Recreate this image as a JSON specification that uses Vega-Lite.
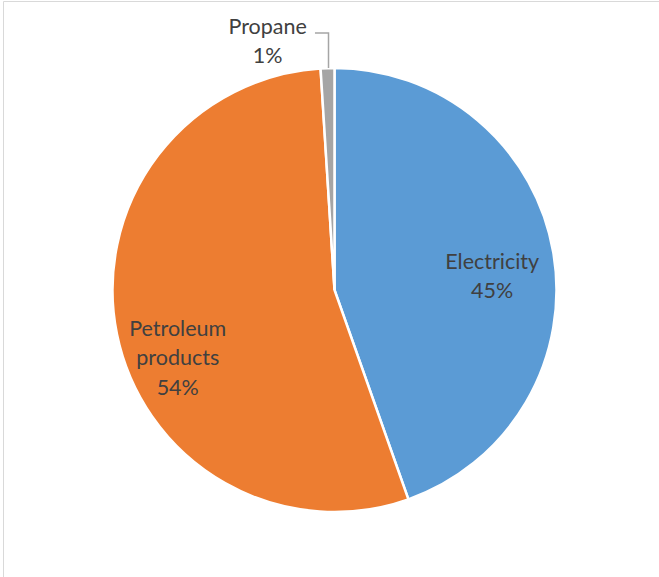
{
  "$schema": "https://vega.github.io/schema/vega-lite/v6.json",
  "autosize": "none",
  "width": 663,
  "height": 578,
  "padding": {"left": 3, "top": 1, "right": 0, "bottom": 0},
  "background": "white",
  "config": {"view": {"stroke": "#d9d9d9", "strokeWidth": 1}},
  "datasets": {
    "shares": [
      {"category": "Electricity", "value": 44.6},
      {"category": "Petroleum products", "value": 54.4},
      {"category": "Propane", "value": 1.0}
    ],
    "leader": [
      {"seq": 1, "px": -0.088, "py": 1.158},
      {"seq": 2, "px": -0.027, "py": 1.158},
      {"seq": 3, "px": -0.027, "py": 1.0}
    ]
  },
  "layer": [
    {
      "data": {"name": "shares"},
      "mark": {"type": "arc", "outerRadius": 222, "stroke": "white", "strokeWidth": 2.5},
      "encoding": {
        "theta": {"field": "value", "type": "quantitative", "stack": true},
        "color": {
          "field": "category", "type": "nominal", "legend": null,
          "scale": {"domain": ["Electricity", "Petroleum products", "Propane"], "range": ["#5B9BD5", "#ED7D31", "#A5A5A5"]}
        },
        "order": {"field": "category"}
      }
    },
    {
      "data": {"name": "shares"},
      "transform": [{"calculate": "datum.category + ' ' + format(datum.value / 100, '.0%')", "as": "label"}],
      "mark": {"type": "text", "radius": 160, "dy": 0, "font": "Lato", "fontSize": 21.5, "lineBreak": " ", "lineHeight": 29, "color": "#404040", "align": "center", "baseline": "middle"},
      "encoding": {
        "theta": {"field": "value", "type": "quantitative", "stack": true},
        "order": {"field": "category"},
        "text": {"condition": {"test": "datum.category === 'Electricity'", "field": "label"}, "value": ""}
      }
    },
    {
      "data": {"name": "shares"},
      "transform": [{"calculate": "datum.category + ' ' + format(datum.value / 100, '.0%')", "as": "label"}],
      "mark": {"type": "text", "radius": 160, "dy": 8, "font": "Lato", "fontSize": 21.5, "lineBreak": " ", "lineHeight": 29.5, "color": "#404040", "align": "center", "baseline": "middle"},
      "encoding": {
        "theta": {"field": "value", "type": "quantitative", "stack": true},
        "order": {"field": "category"},
        "text": {"condition": {"test": "datum.category === 'Petroleum products'", "field": "label"}, "value": ""}
      }
    },
    {
      "data": {"name": "shares"},
      "transform": [{"calculate": "datum.category + ' ' + format(datum.value / 100, '.0%')", "as": "label"}],
      "mark": {"type": "text", "radius": 250, "dx": -59, "dy": -12, "font": "Lato", "fontSize": 21.5, "lineBreak": " ", "lineHeight": 29, "color": "#404040", "align": "center", "baseline": "middle"},
      "encoding": {
        "theta": {"field": "value", "type": "quantitative", "stack": true},
        "order": {"field": "category"},
        "text": {"condition": {"test": "datum.category === 'Propane'", "field": "label"}, "value": ""}
      }
    },
    {
      "data": {"name": "leader"},
      "mark": {"type": "line", "color": "#A5A5A5", "strokeWidth": 1.5},
      "encoding": {
        "x": {"field": "px", "type": "quantitative", "axis": null, "scale": {"domain": [-1.493, 1.493], "nice": false, "zero": false}},
        "y": {"field": "py", "type": "quantitative", "axis": null, "scale": {"domain": [-1.302, 1.302], "nice": false, "zero": false}},
        "order": {"field": "seq"}
      }
    }
  ]
}
